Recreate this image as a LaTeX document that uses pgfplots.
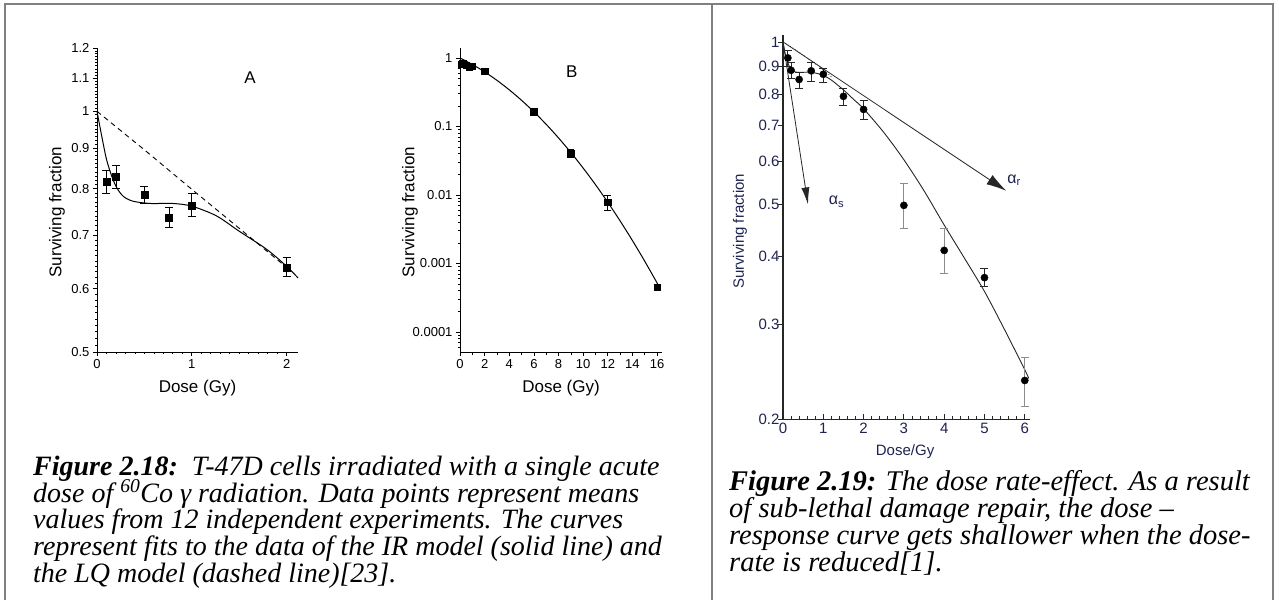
\documentclass[border=0pt]{standalone}
\usepackage{fontspec}
\setmainfont{Liberation Serif}
\newfontfamily\arial{Liberation Sans}
\usepackage{pgfplots}
\pgfplotsset{compat=1.18}
\usetikzlibrary{arrows.meta}
\definecolor{framegray}{RGB}{128,128,128}
\definecolor{navy}{RGB}{30,36,80}
\begin{document}
\begin{tikzpicture}[x=1pt,y=1pt]
\path[use as bounding box] (0,0) rectangle (1279,600);
\fill[white] (0,0) rectangle (1279,600);
\draw[framegray, line width=2pt] (5,0) -- (5,596) -- (1273,596) -- (1273,0);
\draw[framegray, line width=2pt] (712,596) -- (712,0);

% ---------------- Plot A ----------------
\begin{axis}[
  at={(97pt,248pt)}, anchor=south west, scale only axis,
  width=201pt, height=304pt,
  ymode=log, xmin=0, xmax=2.12, ymin=0.5, ymax=1.2,
  axis x line*=bottom, axis y line*=left,
  axis line style={line width=1pt},
  xtick={0,1,2}, minor x tick num=9,
  ytick={0.5,0.6,0.7,0.8,0.9,1,1.1,1.2},
  yticklabels={0.5,0.6,0.7,0.8,0.9,1,1.1,1.2},
  minor ytick={0.51,0.52,0.53,0.54,0.55,0.56,0.57,0.58,0.59,0.61,0.62,0.63,0.64,0.65,0.66,0.67,0.68,0.69,0.71,0.72,0.73,0.74,0.75,0.76,0.77,0.78,0.79,0.81,0.82,0.83,0.84,0.85,0.86,0.87,0.88,0.89,0.91,0.92,0.93,0.94,0.95,0.96,0.97,0.98,0.99,1.01,1.02,1.03,1.04,1.05,1.06,1.07,1.08,1.09,1.11,1.12,1.13,1.14,1.15,1.16,1.17,1.18,1.19},
  tick align=outside, major tick length=4pt, minor tick length=2pt,
  every tick/.style={black, line width=0.7pt},
  /pgf/number format/assume math mode=true,
  tick label style={font=\arial\fontsize{13}{13}\selectfont},
  xlabel={Dose (Gy)}, ylabel={Surviving fraction},
  label style={font=\arial\fontsize{17}{17}\selectfont},
  xlabel style={at={(axis description cs:0.5,-0.118)}, anchor=center},
  ylabel style={at={(axis description cs:-0.199,0.46)}, anchor=center},
  clip=false,
]
\addplot[black, line width=1pt, smooth] coordinates {(0,1.0) (0.05,0.931) (0.1,0.871) (0.155,0.83) (0.207,0.803) (0.277,0.783) (0.38,0.772) (0.56,0.767) (0.8,0.767) (1.0,0.761) (1.26,0.740) (1.5,0.708) (1.79,0.672) (2.0,0.640) (2.12,0.619)};
\addplot[black, line width=0.9pt, dash pattern=on 5pt off 4pt] coordinates {(0,1) (0.5,0.895) (1,0.799) (1.5,0.714) (2,0.638)};
\addplot[black, only marks, mark=square*, mark size=3.5pt,
  error bars/.cd, y dir=both, y explicit,
  error bar style={line width=0.8pt, black},
  error mark options={rotate=90, mark size=4pt, line width=0.8pt, black}]
  coordinates {
  (0.1,0.817) += (0,0.026) -= (0,0.027)
  (0.2,0.828) += (0,0.028) -= (0,0.028)
  (0.5,0.786) += (0,0.020) -= (0,0.019)
  (0.76,0.736) += (0,0.022) -= (0,0.020)
  (1.0,0.763) += (0,0.027) -= (0,0.024)
  (2.0,0.638) += (0,0.019) -= (0,0.016)
  };
\node[font=\arial\fontsize{17}{17}\selectfont] at (axis description cs:0.761,0.901) {A};
\end{axis}

% ---------------- Plot B ----------------
\begin{axis}[
  at={(460pt,248pt)}, anchor=south west, scale only axis,
  width=202pt, height=304pt,
  ymode=log, xmin=0, xmax=16.4, ymin=0.000051, ymax=1.4,
  axis x line*=bottom, axis y line*=left,
  axis line style={line width=1pt},
  xtick={0,2,...,16}, minor x tick num=1,
  ytick={0.0001,0.001,0.01,0.1,1},
  yticklabels={0.0001,0.001,0.01,0.1,1},
  minor ytick={0.00006,0.00007,0.00008,0.00009,0.0002,0.0003,0.0004,0.0005,0.0006,0.0007,0.0008,0.0009,0.002,0.003,0.004,0.005,0.006,0.007,0.008,0.009,0.02,0.03,0.04,0.05,0.06,0.07,0.08,0.09,0.2,0.3,0.4,0.5,0.6,0.7,0.8,0.9},
  tick align=outside, major tick length=4pt, minor tick length=2.5pt,
  every tick/.style={black, line width=0.7pt},
  /pgf/number format/assume math mode=true,
  tick label style={font=\arial\fontsize{13}{13}\selectfont},
  xlabel={Dose (Gy)}, ylabel={Surviving fraction},
  label style={font=\arial\fontsize{17}{17}\selectfont},
  xlabel style={at={(axis description cs:0.5,-0.118)}, anchor=center},
  ylabel style={at={(axis description cs:-0.2475,0.46)}, anchor=center},
  clip=false,
]
\addplot[black, line width=1pt, smooth] coordinates {(0,1) (1,0.806) (2,0.627) (3,0.472) (4,0.343) (5,0.241) (6,0.1637) (7,0.1074) (8,0.0681) (9,0.0417) (10,0.0247) (11,0.01415) (12,0.00782) (13,0.00418) (14,0.00216) (15,0.001078) (16,0.00052) (16.2,0.000447)};
\addplot[black, only marks, mark=square*, mark size=3.3pt,
  error bars/.cd, y dir=both, y explicit,
  error bar style={line width=0.8pt, black},
  error mark options={rotate=90, mark size=3.5pt, line width=0.8pt, black}]
  coordinates {
  (0.1,0.817) += (0,0.026) -= (0,0.027)
  (0.2,0.828) += (0,0.028) -= (0,0.028)
  (0.5,0.786) += (0,0.020) -= (0,0.019)
  (0.76,0.736) += (0,0.022) -= (0,0.020)
  (1.0,0.763) += (0,0.027) -= (0,0.024)
  (2.0,0.638) += (0,0.019) -= (0,0.016)
  (6.0,0.164) += (0,0.008) -= (0,0.008)
  (9.0,0.0407) += (0,0.0063) -= (0,0.0057)
  (12.0,0.0078) += (0,0.0020) -= (0,0.0019)
  (16.0,0.00045) += (0,0.00004) -= (0,0.00004)
  };
\node[font=\arial\fontsize{17}{17}\selectfont] at (axis description cs:0.553,0.922) {B};
\end{axis}

% ---------------- Plot C ----------------
\begin{axis}[
  at={(783pt,180.7pt)}, anchor=south west, scale only axis,
  width=246.6pt, height=384.3pt,
  ymode=log, xmin=0, xmax=6.12, ymin=0.2, ymax=1.03,
  axis x line*=bottom, axis y line*=left,
  axis line style={line width=1.1pt, black!85},
  xtick={0,1,2,3,4,5,6}, minor x tick num=4,
  ytick={0.2,0.3,0.4,0.5,0.6,0.7,0.8,0.9,1},
  yticklabels={0.2,0.3,0.4,0.5,0.6,0.7,0.8,0.9,1},
  tick align=inside, major tick length=5pt, minor tick length=3.5pt,
  every tick/.style={black!85, line width=0.8pt},
  every major y tick/.append style={xshift=-5pt},
  /pgf/number format/assume math mode=true,
  tick label style={font=\arial\fontsize{15}{15}\selectfont, text=navy},
  xlabel={Dose/Gy}, ylabel={Surviving fraction},
  label style={font=\arial\fontsize{15}{15}\selectfont, text=navy},
  xlabel style={at={(axis description cs:0.495,-0.085)}, anchor=center},
  ylabel style={at={(axis description cs:-0.174,0.489)}, anchor=center},
  clip=false,
]
\addplot[black!85, line width=0.9pt, smooth] coordinates {(0,1.0) (0.05,0.955) (0.1,0.925) (0.15,0.903) (0.2,0.89) (0.3,0.88) (0.45,0.878) (0.6,0.879) (0.8,0.876) (1.0,0.867) (1.2,0.85) (1.5,0.815) (1.75,0.783) (2.0,0.752) (2.5,0.68) (3.0,0.605) (3.5,0.53) (4.0,0.458) (4.5,0.398) (5.0,0.345) (5.5,0.293) (6.0,0.247) (6.1,0.238)};
\addplot[black!80, line width=0.8pt, dotted] coordinates {(0,1) (0.3,0.968) (0.6,0.934) (0.9,0.9) (1.2,0.862)};
\addplot[black!85, line width=0.8pt, -{Latex[length=17pt,width=8pt]}] coordinates {(0,1) (0.62,0.5)};
\addplot[black!85, line width=0.8pt, -{Latex[length=20pt,width=11pt]}] coordinates {(0,1) (5.54,0.53)};
\addplot[black, only marks, mark=*, mark size=3.6pt,
  error bars/.cd, y dir=both, y explicit,
  error bar style={line width=0.8pt, black!85},
  error mark options={rotate=90, mark size=4pt, line width=0.8pt, black!85}]
  coordinates {
  (0.12,0.934) += (0,0.031) -= (0,0.034)
  (0.2,0.886) += (0,0.030) -= (0,0.030)
  (0.4,0.852) += (0,0.028) -= (0,0.032)
  (0.7,0.884) += (0,0.034) -= (0,0.038)
  (1.0,0.871) += (0,0.022) -= (0,0.028)
  (1.5,0.793) += (0,0.027) -= (0,0.029)
  (2.0,0.750) += (0,0.030) -= (0,0.032)
  (5.0,0.366) += (0,0.015) -= (0,0.014)
  };
\addplot[black, only marks, mark=*, mark size=3.6pt,
  error bars/.cd, y dir=both, y explicit,
  error bar style={line width=0.9pt, black!45},
  error mark options={rotate=90, mark size=4pt, line width=0.9pt, black!45}]
  coordinates {
  (3.0,0.498) += (0,0.049) -= (0,0.046)
  (4.0,0.411) += (0,0.041) -= (0,0.039)
  (6.0,0.236) += (0,0.024) -= (0,0.025)
  };
\node[font=\arial\fontsize{16}{16}\selectfont, text=navy, anchor=west] at (axis description cs:0.172,0.566) {α\textsubscript{s}};
\node[font=\arial\fontsize{16}{16}\selectfont, text=navy, anchor=west] at (axis description cs:0.895,0.622) {α\textsubscript{r}};
\end{axis}

% ---------------- Captions ----------------
\begin{scope}[every node/.style={anchor=base west, inner sep=0pt}]
\node at (33,125) {\fontsize{28}{28}\selectfont\textbf{\textit{Figure 2.18:}}\ \ \textit{T-47D cells irradiated with a single acute}};
\node at (33,98) {\fontsize{28}{28}\selectfont\textit{dose of \textsuperscript{60}Co γ radiation. Data points represent means}};
\node at (33,72) {\fontsize{28}{28}\selectfont\textit{values from 12 independent experiments. The curves}};
\node at (33,45) {\fontsize{28}{28}\selectfont\textit{represent fits to the data of the IR model (solid line) and}};
\node at (33,18) {\fontsize{28}{28}\selectfont\textit{the LQ model (dashed line)[23].}};
\node at (729,110) {\fontsize{28.5}{28.5}\selectfont\textbf{\textit{Figure 2.19:}} \textit{The dose rate-effect. As a result}};
\node at (729,83) {\fontsize{28.5}{28.5}\selectfont\textit{of sub-lethal damage repair, the dose –}};
\node at (729,56) {\fontsize{28.5}{28.5}\selectfont\textit{response curve gets shallower when the dose-}};
\node at (729,29) {\fontsize{28.5}{28.5}\selectfont\textit{rate is reduced[1].}};
\end{scope}
\end{tikzpicture}
\end{document}
